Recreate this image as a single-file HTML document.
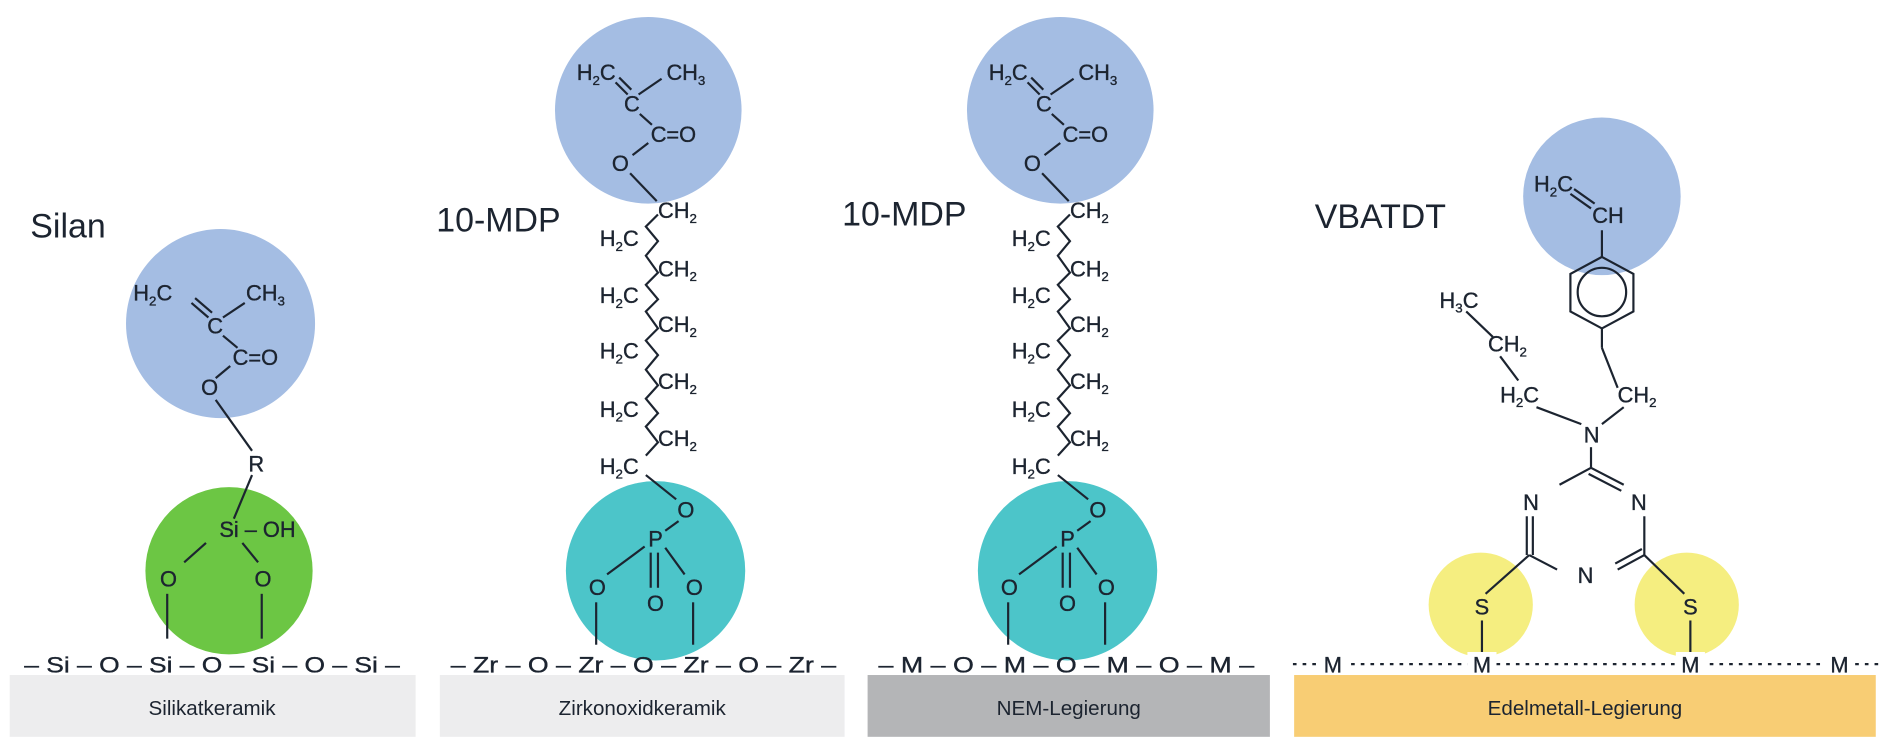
<!DOCTYPE html>
<html><head><meta charset="utf-8"><style>
html,body{margin:0;padding:0;background:#fff;}
svg{display:block;}
text{font-family:"Liberation Sans",sans-serif;fill:#1c2430;}
.m{font-size:18px;stroke:#1c2430;stroke-width:0.3;}
.s{font-size:11px;}
line,polyline,polygon{stroke:#1c2430;stroke-width:1.8;fill:none;}
</style></head><body>
<svg width="1900" height="755" viewBox="0 0 1568 623" preserveAspectRatio="none" xmlns="http://www.w3.org/2000/svg">
<rect width="1568" height="623" fill="#fff"/>
<!-- bars -->
<rect x="8" y="557" width="335" height="51" fill="#ededee"/>
<rect x="363" y="557" width="334" height="51" fill="#ededee"/>
<rect x="716" y="557" width="332" height="51" fill="#b4b5b7"/>
<rect x="1068" y="557" width="480" height="51" fill="#f8cd74"/>
<text x="175" y="590" font-size="17" text-anchor="middle">Silikatkeramik</text>
<text x="530" y="590" font-size="17" text-anchor="middle">Zirkonoxidkeramik</text>
<text x="882" y="590" font-size="17" text-anchor="middle">NEM-Legierung</text>
<text x="1308" y="590" font-size="17" text-anchor="middle">Edelmetall-Legierung</text>

<!-- titles -->
<text x="25" y="196" font-size="28">Silan</text>
<text x="360" y="191" font-size="28">10-MDP</text>
<text x="695" y="186" font-size="28">10-MDP</text>
<text x="1085" y="188" font-size="28">VBATDT</text>

<!-- ===== Silan ===== -->
<circle cx="182" cy="267" r="78" fill="#a4bde3"/>
<circle cx="189" cy="471" r="69" fill="#6cc644"/>
<g class="m">
<text x="110" y="248">H<tspan class="s" dy="4">2</tspan><tspan dy="-4">C</tspan></text>
<text x="203" y="248">CH<tspan class="s" dy="4">3</tspan></text>
<text x="171" y="275">C</text>
<text x="192" y="301">C=O</text>
<text x="166" y="326">O</text>
<text x="205" y="389">R</text>
<text x="181" y="443">Si – OH</text>
<text x="132" y="484">O</text>
<text x="210" y="484">O</text>
</g>
<line x1="158" y1="250" x2="172" y2="262"/><line x1="161" y1="246" x2="175" y2="258"/>
<line x1="184" y1="262" x2="202" y2="250"/>
<line x1="184" y1="277" x2="196" y2="287"/>
<line x1="190" y1="302" x2="178" y2="312"/>
<line x1="178" y1="330" x2="208" y2="372"/>
<line x1="208" y1="392" x2="193" y2="428"/>
<line x1="170" y1="448" x2="152" y2="464"/>
<line x1="200" y1="448" x2="213" y2="464"/>
<line x1="138" y1="490" x2="138" y2="527"/>
<line x1="216" y1="490" x2="216" y2="527"/>
<text x="20" y="555" class="m" textLength="310" lengthAdjust="spacingAndGlyphs">– Si – O – Si – O – Si – O – Si –</text>

<!-- ===== MDP panels ===== -->
<g id="mdp">
<circle cx="535" cy="91" r="77" fill="#a4bde3"/>
<circle cx="541" cy="471" r="74" fill="#4cc5c9"/>
<g class="m">
<text x="476" y="66">H<tspan class="s" dy="4">2</tspan><tspan dy="-4">C</tspan></text>
<text x="550" y="66">CH<tspan class="s" dy="4">3</tspan></text>
<text x="515" y="92">C</text>
<text x="537" y="117">C=O</text>
<text x="505" y="141">O</text>
<text x="543" y="180">CH<tspan class="s" dy="4">2</tspan></text>
<text x="495" y="203">H<tspan class="s" dy="4">2</tspan><tspan dy="-4">C</tspan></text>
<text x="543" y="228">CH<tspan class="s" dy="4">2</tspan></text>
<text x="495" y="250">H<tspan class="s" dy="4">2</tspan><tspan dy="-4">C</tspan></text>
<text x="543" y="274">CH<tspan class="s" dy="4">2</tspan></text>
<text x="495" y="296">H<tspan class="s" dy="4">2</tspan><tspan dy="-4">C</tspan></text>
<text x="543" y="321">CH<tspan class="s" dy="4">2</tspan></text>
<text x="495" y="344">H<tspan class="s" dy="4">2</tspan><tspan dy="-4">C</tspan></text>
<text x="543" y="368">CH<tspan class="s" dy="4">2</tspan></text>
<text x="495" y="391">H<tspan class="s" dy="4">2</tspan><tspan dy="-4">C</tspan></text>
<text x="559" y="427">O</text>
<text x="535" y="451">P</text>
<text x="486" y="491">O</text>
<text x="566" y="491">O</text>
<text x="534" y="504">O</text>
</g>
<line x1="508" y1="68" x2="518" y2="78"/><line x1="511" y1="64" x2="521" y2="74"/>
<line x1="527" y1="78" x2="546" y2="65"/>
<line x1="528" y1="94" x2="538" y2="103"/>
<line x1="535" y1="118" x2="522" y2="128"/>
<line x1="520" y1="143" x2="542" y2="166"/>
<polyline points="543,177 533,187 543,199 533,211 543,225 533,235 543,247 533,257 543,271 533,281 543,293 533,305 543,318 533,329 543,341 533,352 543,365 533,376"/>
<line x1="533" y1="392" x2="558" y2="412"/>
<line x1="560" y1="430" x2="549" y2="438"/>
<line x1="532" y1="451" x2="501" y2="474"/>
<line x1="549" y1="452" x2="565" y2="474"/>
<line x1="537" y1="456" x2="537" y2="485"/><line x1="543" y1="456" x2="543" y2="485"/>
<line x1="492" y1="497" x2="492" y2="532"/>
<line x1="572" y1="497" x2="572" y2="532"/>
</g>
<text x="372" y="555" class="m" textLength="318" lengthAdjust="spacingAndGlyphs">– Zr – O – Zr – O – Zr – O – Zr –</text>
<use href="#mdp" transform="translate(340,0)"/>
<text x="725" y="555" class="m" textLength="310" lengthAdjust="spacingAndGlyphs">– M – O – M – O – M – O – M –</text>

<!-- ===== VBATDT ===== -->
<circle cx="1322" cy="162" r="65" fill="#a4bde3"/>
<circle cx="1222" cy="499" r="43" fill="#f5ee80"/>
<circle cx="1392" cy="499" r="43" fill="#f5ee80"/>
<g class="m">
<text x="1266" y="158">H<tspan class="s" dy="4">2</tspan><tspan dy="-4">C</tspan></text>
<text x="1314" y="184">CH</text>
<text x="1188" y="254">H<tspan class="s" dy="4">3</tspan><tspan dy="-4">C</tspan></text>
<text x="1228" y="290">CH<tspan class="s" dy="4">2</tspan></text>
<text x="1238" y="332">H<tspan class="s" dy="4">2</tspan><tspan dy="-4">C</tspan></text>
<text x="1335" y="332">CH<tspan class="s" dy="4">2</tspan></text>
<text x="1307" y="365">N</text>
<text x="1257" y="421">N</text>
<text x="1346" y="421">N</text>
<text x="1302" y="481">N</text>
<text x="1217" y="507">S</text>
<text x="1389" y="507">S</text>
</g>
<line x1="1296" y1="160" x2="1313" y2="172"/><line x1="1299" y1="156" x2="1316" y2="168"/>
<line x1="1322" y1="190" x2="1322" y2="212"/>
<polygon points="1322,212 1348,226 1348,257 1322,271 1296,257 1296,226"/>
<circle cx="1322" cy="241" r="20" fill="none" stroke="#1c2430" stroke-width="1.8"/>
<line x1="1322" y1="271" x2="1322" y2="287"/>
<line x1="1322" y1="287" x2="1335" y2="320"/>
<line x1="1210" y1="257" x2="1232" y2="278"/>
<line x1="1238" y1="294" x2="1253" y2="314"/>
<line x1="1268" y1="336" x2="1305" y2="350"/>
<line x1="1340" y1="336" x2="1322" y2="350"/>
<line x1="1313" y1="369" x2="1313" y2="386"/>
<line x1="1313" y1="386" x2="1287" y2="400"/>
<line x1="1313" y1="386" x2="1340" y2="400"/><line x1="1311" y1="391" x2="1338" y2="405"/>
<line x1="1260" y1="426" x2="1260" y2="458"/><line x1="1265" y1="426" x2="1265" y2="458"/>
<line x1="1357" y1="426" x2="1357" y2="458"/>
<line x1="1262" y1="458" x2="1285" y2="470"/>
<line x1="1357" y1="458" x2="1335" y2="470"/><line x1="1355" y1="453" x2="1333" y2="465"/>
<line x1="1262" y1="458" x2="1226" y2="490"/>
<line x1="1357" y1="458" x2="1390" y2="490"/>
<line x1="1223" y1="512" x2="1223" y2="538"/>
<line x1="1395" y1="512" x2="1395" y2="538"/>
<line x1="1067" y1="548" x2="1555" y2="548" stroke-dasharray="3,5" stroke-width="2"/>
<g class="m" text-anchor="middle">
<rect x="1088" y="538" width="24" height="18" fill="#fff" stroke="none"/><text x="1100" y="555">M</text>
<rect x="1211" y="538" width="24" height="18" fill="#fff" stroke="none"/><text x="1223" y="555">M</text>
<rect x="1383" y="538" width="24" height="18" fill="#fff" stroke="none"/><text x="1395" y="555">M</text>
<rect x="1506" y="538" width="24" height="18" fill="#fff" stroke="none"/><text x="1518" y="555">M</text>
</g>
</svg>
</body></html>
